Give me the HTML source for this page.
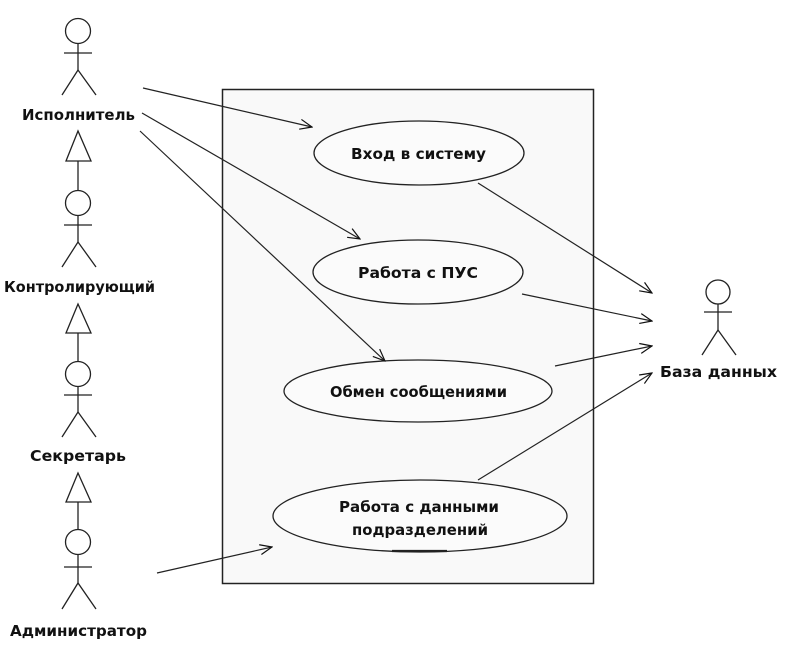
<!DOCTYPE html>
<html><head><meta charset="utf-8"><style>html,body{margin:0;padding:0;background:#fff}svg{display:block}</style></head>
<body>
<svg width="790" height="646" viewBox="0 0 790 646" xmlns="http://www.w3.org/2000/svg">
<defs>
<marker id="a" markerWidth="14" markerHeight="12" refX="13" refY="6" orient="auto" markerUnits="userSpaceOnUse">
<path d="M1,1 L13,6 L1,11" fill="none" stroke="#111" stroke-width="1.2"/>
</marker>
</defs>
<rect x="222.5" y="89.5" width="371" height="494" fill="#f9f9f9" stroke="#222" stroke-width="1.5"/>
<g fill="#fbfbfb" stroke="#222" stroke-width="1.3">
<ellipse cx="419" cy="153" rx="105" ry="32"/>
<ellipse cx="418" cy="272" rx="105" ry="32"/>
<ellipse cx="418" cy="391" rx="134" ry="31"/>
<ellipse cx="420" cy="516" rx="147" ry="36"/>
</g>
<line x1="392" y1="551" x2="447" y2="551" stroke="#222" stroke-width="2.2"/>
<g stroke="#222" stroke-width="1.2" fill="none" marker-end="url(#a)">
<line x1="143" y1="88" x2="312" y2="127"/>
<line x1="142" y1="113" x2="360" y2="239"/>
<line x1="140" y1="131" x2="385" y2="361"/>
<line x1="157" y1="573" x2="272" y2="547"/>
<line x1="478" y1="183" x2="652" y2="293"/>
<line x1="522" y1="294" x2="652" y2="321"/>
<line x1="555" y1="366" x2="652" y2="346"/>
<line x1="478" y1="480" x2="652" y2="373"/>
</g>
<g stroke="#222" stroke-width="1.3" fill="none">
<circle cx="78" cy="31" r="12.5" fill="#fff"/><line x1="78" y1="43" x2="78" y2="70"/><line x1="64" y1="53" x2="92" y2="53"/><path d="M62,95 L78,70 L96,95"/>
<path d="M78,131 L66,161 L91,161 Z" fill="#fff"/><line x1="78" y1="161" x2="78" y2="191"/>
<circle cx="78" cy="203" r="12.5" fill="#fff"/><line x1="78" y1="215" x2="78" y2="242"/><line x1="64" y1="225" x2="92" y2="225"/><path d="M62,267 L78,242 L96,267"/>
<path d="M78,304 L66,333 L91,333 Z" fill="#fff"/><line x1="78" y1="333" x2="78" y2="362"/>
<circle cx="78" cy="374" r="12.5" fill="#fff"/><line x1="78" y1="386" x2="78" y2="412"/><line x1="64" y1="395" x2="92" y2="395"/><path d="M62,437 L78,412 L96,437"/>
<path d="M78,473 L66,502 L91,502 Z" fill="#fff"/><line x1="78" y1="502" x2="78" y2="530"/>
<circle cx="78" cy="542" r="12.5" fill="#fff"/><line x1="78" y1="554" x2="78" y2="583"/><line x1="64" y1="567" x2="92" y2="567"/><path d="M62,609 L78,583 L96,609"/>
<circle cx="718" cy="292" r="12" fill="#fff"/><line x1="718" y1="304" x2="718" y2="330"/><line x1="704" y1="312" x2="732" y2="312"/><path d="M702,355 L718,330 L736,355"/>
</g>
<g font-family="DejaVu Sans, Liberation Sans, sans-serif" font-weight="bold" font-size="15" fill="#111" lengthAdjust="spacingAndGlyphs">
<text x="22" y="120" textLength="113" lengthAdjust="spacingAndGlyphs">Исполнитель</text>
<text x="4" y="292" textLength="151" lengthAdjust="spacingAndGlyphs">Контролирующий</text>
<text x="30" y="461" textLength="96" lengthAdjust="spacingAndGlyphs">Секретарь</text>
<text x="10" y="636" textLength="137" lengthAdjust="spacingAndGlyphs">Администратор</text>
<text x="660" y="377" textLength="117" lengthAdjust="spacingAndGlyphs">База данных</text>
<text x="351" y="159" textLength="135" lengthAdjust="spacingAndGlyphs">Вход в систему</text>
<text x="358" y="278" textLength="120" lengthAdjust="spacingAndGlyphs">Работа с ПУС</text>
<text x="330" y="397" textLength="177" lengthAdjust="spacingAndGlyphs">Обмен сообщениями</text>
<text x="339" y="512" textLength="160" lengthAdjust="spacingAndGlyphs">Работа с данными</text>
<text x="352" y="535" textLength="136" lengthAdjust="spacingAndGlyphs">подразделений</text>
</g>
</svg>
</body></html>
